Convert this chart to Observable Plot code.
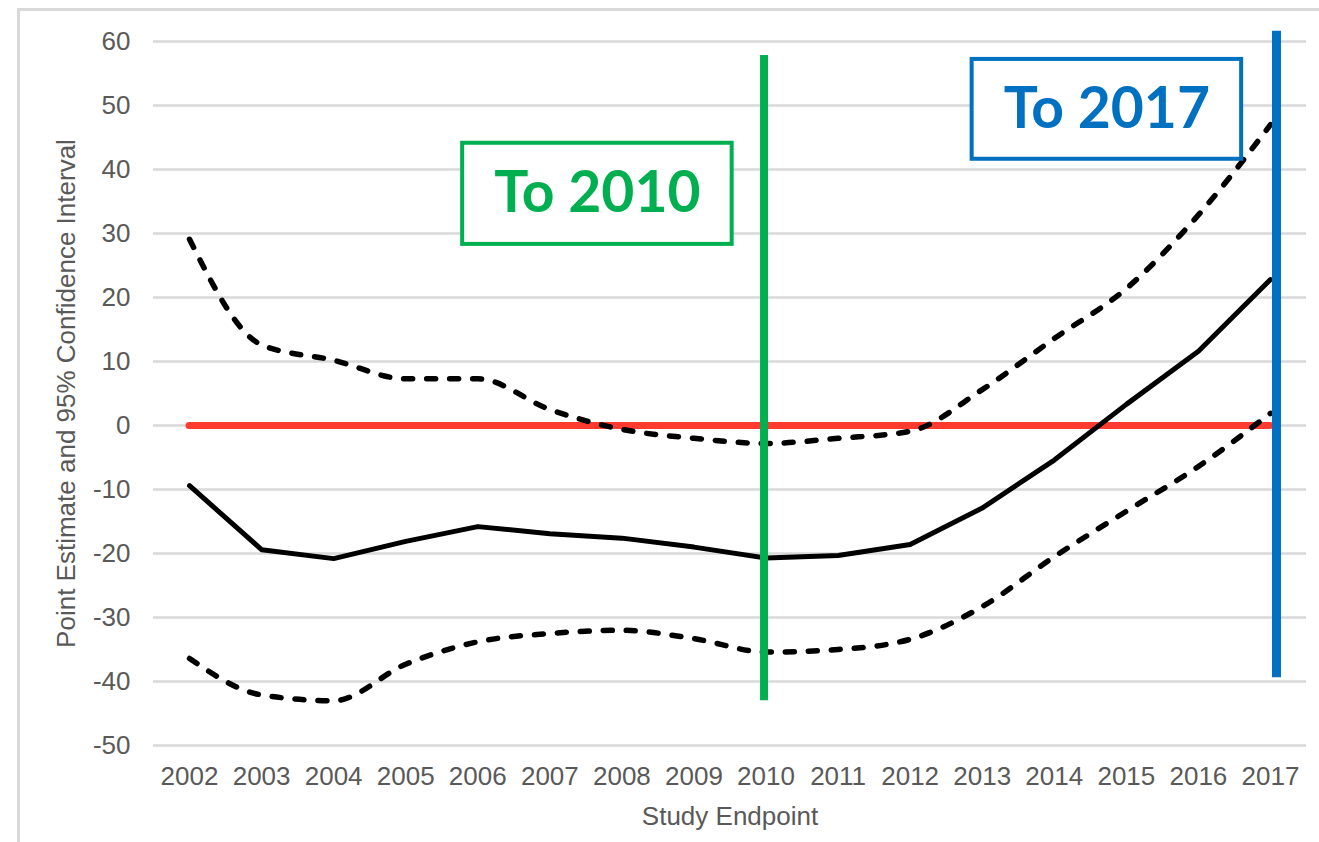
<!DOCTYPE html>
<html>
<head>
<meta charset="utf-8">
<script src="https://cdn.jsdelivr.net/npm/d3@7"></script>
<script src="https://cdn.jsdelivr.net/npm/@observablehq/plot@0.6"></script>
<style>
  html, body { margin: 0; padding: 0; background: #fff; }
  #wrap { position: relative; width: 1319px; height: 842px; overflow: hidden; }
  #frame { position: absolute; left: 17px; top: 8px; width: 1400px; height: 900px;
           border-left: 3px solid #d9d9d9; border-top: 3px solid #d9d9d9; }
  #chart { position: absolute; left: 0; top: 0; }
</style>
</head>
<body>
<div id="wrap"><div id="frame"></div><div id="chart"></div></div>
<script>
// ---- data ----
const years = [2002, 2003, 2004, 2005, 2006, 2007, 2008, 2009, 2010, 2011, 2012, 2013, 2014, 2015, 2016, 2017];
const pointEstimate = [-9.4, -19.4, -20.8, -18.1, -15.8, -16.9, -17.6, -19.0, -20.7, -20.3, -18.6, -12.9, -5.4, 3.3, 11.6, 22.8];
const upperCI = [29.1, 12.6, 10.2, 7.3, 7.3, 2.5, -0.6, -2.0, -2.8, -2.0, -0.9, 5.6, 13.6, 21.4, 32.9, 47.0];
const lowerCI = [-36.4, -42.1, -43.0, -37.3, -33.8, -32.5, -32.0, -33.3, -35.4, -35.0, -33.4, -28.3, -20.5, -13.4, -6.4, 1.9];
const yTicks = [60, 50, 40, 30, 20, 10, 0, -10, -20, -30, -40, -50];
const yLabel = "Point Estimate and 95% Confidence Interval";
const xLabel = "Study Endpoint";
// reference line at zero
const zeroLine = [{y: 0, from: 2002, to: 2017}];
// study-endpoint markers (year, extent in y units)
const markers = [
  {year: 2010, low: -43, high: 57.8, label: "To 2010"},
  {year: 2017, low: -39.4, high: 61.6, label: "To 2017"}
];
// label boxes (data coordinates)
const boxes = [
  {label: "To 2010", x1: 2005.79, x2: 2009.53, y1: 28.3, y2: 44.1},
  {label: "To 2017", x1: 2012.86, x2: 2016.60, y1: 41.6, y2: 57.2}
];

const green = "#00b050", blue = "#0070c0";
const boxColor = {"To 2010": green, "To 2017": blue};

const plot = Plot.plot({
  width: 1319,
  height: 842,
  marginLeft: 153,
  marginRight: 13,
  marginTop: 41,
  marginBottom: 97,
  style: {fontFamily: "'Liberation Sans', Arial, sans-serif", fontSize: "26px", background: "transparent", color: "#595959"},
  x: {domain: [2001.5, 2017.5]},
  y: {domain: [-50, 60]},
  marks: [
    Plot.gridY(yTicks, {stroke: "#d9d9d9", strokeOpacity: 1, strokeWidth: 2.5}),
    Plot.axisY(yTicks, {tickSize: 0, tickPadding: 23, fontSize: 26, fill: "#595959", tickFormat: d => String(d),
      label: yLabel, labelAnchor: "center", labelArrow: "none", labelOffset: 97}),
    Plot.axisX(years, {tickSize: 0, tickPadding: 21, fontSize: 26, fill: "#595959", tickFormat: d => String(d),
      label: xLabel, labelAnchor: "center", labelArrow: "none", labelOffset: 79}),
    Plot.ruleY(zeroLine, {y: "y", x1: "from", x2: "to", stroke: "#ff3b2f", strokeWidth: 7, strokeLinecap: "round"}),
    Plot.line(upperCI, {x: (d, i) => years[i], y: d => d, curve: "monotone-x", stroke: "#000", strokeWidth: 5.5,
      strokeDasharray: "9,14", strokeLinecap: "round", strokeLinejoin: "round"}),
    Plot.line(lowerCI, {x: (d, i) => years[i], y: d => d, curve: "monotone-x", stroke: "#000", strokeWidth: 5.5,
      strokeDasharray: "9,14", strokeLinecap: "round", strokeLinejoin: "round"}),
    Plot.line(pointEstimate, {x: (d, i) => years[i], y: d => d, curve: "linear", stroke: "#000", strokeWidth: 5,
      strokeLinecap: "round", strokeLinejoin: "round"}),
    Plot.ruleX(markers.filter(d => d.year === 2010), {x: "year", y1: "low", y2: "high", stroke: green, strokeWidth: 8, dx: -2}),
    Plot.ruleX(markers.filter(d => d.year === 2017), {x: "year", y1: "low", y2: "high", stroke: blue, strokeWidth: 9, dx: 6}),
    Plot.rect(boxes, {x1: "x1", x2: "x2", y1: "y1", y2: "y2", fill: "white", stroke: d => boxColor[d.label], strokeWidth: 4}),
    Plot.text(boxes, {x: d => (d.x1 + d.x2) / 2, y: d => (d.y1 + d.y2) / 2, text: "label",
      fill: d => boxColor[d.label], fontFamily: "Lato, 'Open Sans', sans-serif", fontWeight: "bold", fontSize: 57})
  ]
});
document.getElementById("chart").appendChild(plot);
</script>
</body>
</html>
